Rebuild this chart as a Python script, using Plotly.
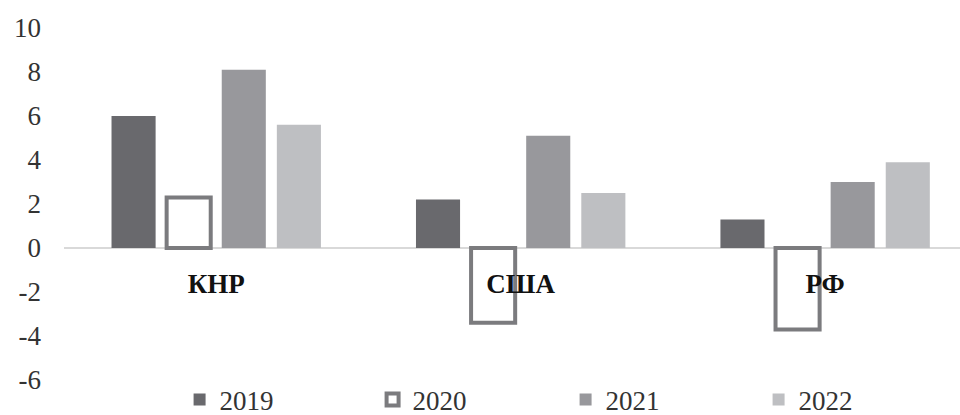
import plotly.graph_objects as go

# Country groups and yearly values
countries = ["КНР", "США", "РФ"]
years = ["2019", "2020", "2021", "2022"]
values_2019 = [6.0, 2.2, 1.3]
values_2020 = [2.3, -3.4, -3.7]
values_2021 = [8.1, 5.1, 3.0]
values_2022 = [5.6, 2.5, 3.9]
y_ticks = [-6, -4, -2, 0, 2, 4, 6, 8, 10]
y_tick_text = ["-6", "-4", "-2", "0", "2", "4", "6", "8", "10"]

series = [values_2019, values_2020, values_2021, values_2022]
fills = ["#69696d", "#ffffff", "#98989c", "#bebfc2"]
edges = ["#69696d", "#7b7b7e", "#98989c", "#bebfc2"]
edge_widths = [0, 4, 0, 0]

FONT = "Liberation Serif"

fig = go.Figure()
for name, vals, fc, ec, ew in zip(years, series, fills, edges, edge_widths):
    fig.add_trace(go.Bar(
        x=countries, y=vals, name=name,
        marker=dict(color=fc, line=dict(color=ec, width=ew)),
    ))

fig.update_layout(
    width=960, height=415,
    margin=dict(l=64, r=0, t=28, b=35, autoexpand=False),
    paper_bgcolor="white", plot_bgcolor="white",
    barmode="group", bargap=0.276, bargroupgap=0.2,
    font=dict(family=FONT, size=27, color="#222222"),
    showlegend=True,
    legend=dict(
        orientation="h", x=0.129, xanchor="left", y=-0.057, yanchor="middle",
        entrywidth=148, entrywidthmode="pixels",
        font=dict(family=FONT, size=27, color="#333333"),
        itemclick=False, bgcolor="rgba(0,0,0,0)",
    ),
    xaxis=dict(
        type="category", range=[-0.5, 2.443],
        anchor="free", position=(0 - (-6)) / 16,
        showline=False, showgrid=False, ticks="",
        ticklabelstandoff=17,
        tickfont=dict(family=FONT, size=27, color="#111111", weight="bold"),
    ),
    yaxis=dict(
        range=[-6, 10], tickvals=y_ticks, ticktext=y_tick_text,
        showgrid=False, showline=False, ticks="",
        zeroline=True, zerolinecolor="#d9d9d9", zerolinewidth=2,
        ticklabelstandoff=22,
        tickfont=dict(family=FONT, size=27, color="#333333"),
    ),
)

fig.write_html("out.html")
